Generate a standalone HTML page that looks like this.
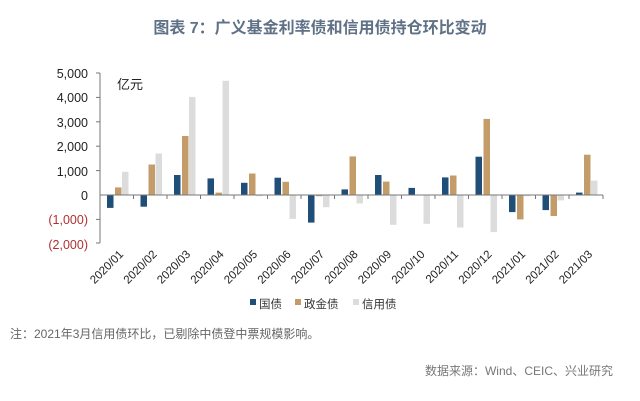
<!DOCTYPE html>
<html><head><meta charset="utf-8"><style>
body{margin:0;background:#fff;width:640px;height:401px;overflow:hidden}
svg{display:block}
text{font-family:"Liberation Sans","Noto Sans CJK SC",sans-serif}
</style></head><body>
<svg width="640" height="401" viewBox="0 0 640 401">
<text x="320" y="33" text-anchor="middle" font-size="16" font-weight="bold" fill="#5f7186">图表 7：广义基金利率债和信用债持仓环比变动</text>
<g font-size="12.5" fill="#222" text-anchor="end">
<text x="88" y="78">5,000</text><text x="88" y="102">4,000</text><text x="88" y="127">3,000</text><text x="88" y="151">2,000</text><text x="88" y="176">1,000</text><text x="88" y="200">0</text>
<text x="88" y="224" fill="#b03030">(1,000)</text><text x="88" y="249" fill="#b03030">(2,000)</text>
</g>
<text x="117" y="89" font-size="13" fill="#222">亿元</text>
<g stroke="#777" stroke-width="1">
<line x1="100" y1="73" x2="100" y2="243"/>
<line x1="96" y1="73" x2="100" y2="73"/><line x1="96" y1="97.4" x2="100" y2="97.4"/><line x1="96" y1="121.8" x2="100" y2="121.8"/><line x1="96" y1="146.2" x2="100" y2="146.2"/><line x1="96" y1="170.6" x2="100" y2="170.6"/><line x1="96" y1="219.4" x2="100" y2="219.4"/><line x1="96" y1="243" x2="100" y2="243"/>
</g>
<g fill="#1f4e79">
<rect x="107" y="195" width="6.5" height="12.9"/><rect x="140.5" y="195" width="6.5" height="11.7"/><rect x="174" y="175" width="6.5" height="20"/><rect x="207.5" y="178.4" width="6.5" height="16.6"/><rect x="241" y="182.8" width="6.5" height="12.2"/><rect x="274.5" y="177.7" width="6.5" height="17.3"/><rect x="308" y="195" width="6.5" height="27.6"/><rect x="341.5" y="189.4" width="6.5" height="5.6"/><rect x="375" y="175" width="6.5" height="20"/><rect x="408.5" y="187.9" width="6.5" height="7.1"/><rect x="442" y="177.4" width="6.5" height="17.6"/><rect x="475.5" y="156.7" width="6.5" height="38.3"/><rect x="509" y="195" width="6.5" height="17.1"/><rect x="542.5" y="195" width="6.5" height="15.1"/><rect x="576" y="192.6" width="6.5" height="2.4"/>
</g>
<g fill="#c49c6a">
<rect x="115" y="187.4" width="6.5" height="7.6"/><rect x="148.5" y="164.5" width="6.5" height="30.5"/><rect x="182" y="136" width="6.5" height="59"/><rect x="215.5" y="192.6" width="6.5" height="2.4"/><rect x="249" y="173.5" width="6.5" height="21.5"/><rect x="282.5" y="181.8" width="6.5" height="13.2"/><rect x="316" y="195" width="6.5" height="1.2"/><rect x="349.5" y="156.4" width="6.5" height="38.6"/><rect x="383" y="181.6" width="6.5" height="13.4"/><rect x="450" y="175.5" width="6.5" height="19.5"/><rect x="483.5" y="118.9" width="6.5" height="76.1"/><rect x="517" y="195" width="6.5" height="24.4"/><rect x="550.5" y="195" width="6.5" height="21"/><rect x="584" y="154.7" width="6.5" height="40.3"/>
</g>
<g fill="#dcdcdc">
<rect x="122" y="171.8" width="6.5" height="23.2"/><rect x="155.5" y="153.5" width="6.5" height="41.5"/><rect x="189" y="96.9" width="6.5" height="98.1"/><rect x="222.5" y="80.8" width="6.5" height="114.2"/><rect x="256" y="195" width="6.5" height="1.2"/><rect x="289.5" y="195" width="6.5" height="23.9"/><rect x="323" y="195" width="6.5" height="12.2"/><rect x="356.5" y="195" width="6.5" height="8.5"/><rect x="390" y="195" width="6.5" height="29.8"/><rect x="423.5" y="195" width="6.5" height="28.8"/><rect x="457" y="195" width="6.5" height="32.5"/><rect x="490.5" y="195" width="6.5" height="37.1"/><rect x="524" y="195" width="6.5" height="1.2"/><rect x="557.5" y="195" width="6.5" height="5.4"/><rect x="591" y="180.6" width="6.5" height="14.4"/>
</g>
<g stroke="#777" stroke-width="1">
<line x1="100" y1="195" x2="603" y2="195"/>
<line x1="133.5" y1="195" x2="133.5" y2="199"/><line x1="167" y1="195" x2="167" y2="199"/><line x1="200.5" y1="195" x2="200.5" y2="199"/><line x1="234" y1="195" x2="234" y2="199"/><line x1="267.5" y1="195" x2="267.5" y2="199"/><line x1="301" y1="195" x2="301" y2="199"/><line x1="334.5" y1="195" x2="334.5" y2="199"/><line x1="368" y1="195" x2="368" y2="199"/><line x1="401.5" y1="195" x2="401.5" y2="199"/><line x1="435" y1="195" x2="435" y2="199"/><line x1="468.5" y1="195" x2="468.5" y2="199"/><line x1="502" y1="195" x2="502" y2="199"/><line x1="535.5" y1="195" x2="535.5" y2="199"/><line x1="569" y1="195" x2="569" y2="199"/><line x1="603" y1="195" x2="603" y2="199"/>
</g>
<g font-size="11.5" fill="#222" text-anchor="end">
<text transform="translate(124,255) rotate(-45)">2020/01</text>
<text transform="translate(157.5,255) rotate(-45)">2020/02</text>
<text transform="translate(191,255) rotate(-45)">2020/03</text>
<text transform="translate(224.5,255) rotate(-45)">2020/04</text>
<text transform="translate(258,255) rotate(-45)">2020/05</text>
<text transform="translate(291.5,255) rotate(-45)">2020/06</text>
<text transform="translate(325,255) rotate(-45)">2020/07</text>
<text transform="translate(358.5,255) rotate(-45)">2020/08</text>
<text transform="translate(392,255) rotate(-45)">2020/09</text>
<text transform="translate(425.5,255) rotate(-45)">2020/10</text>
<text transform="translate(459,255) rotate(-45)">2020/11</text>
<text transform="translate(492.5,255) rotate(-45)">2020/12</text>
<text transform="translate(526,255) rotate(-45)">2021/01</text>
<text transform="translate(559.5,255) rotate(-45)">2021/02</text>
<text transform="translate(593,255) rotate(-45)">2021/03</text>
</g>
<g font-size="11.5" fill="#333">
<rect x="250" y="299" width="6" height="6" fill="#1f4e79"/><text x="259" y="308">国债</text>
<rect x="295" y="299" width="6" height="6" fill="#c49c6a"/><text x="304" y="308">政金债</text>
<rect x="353" y="299" width="6" height="6" fill="#dcdcdc"/><text x="362" y="308">信用债</text>
</g>
<text x="10" y="338" font-size="12" fill="#666">注：2021年3月信用债环比，已剔除中债登中票规模影响。</text>
<text x="613" y="375" font-size="12" fill="#777" text-anchor="end">数据来源：Wind、CEIC、兴业研究</text>
</svg>
</body></html>
